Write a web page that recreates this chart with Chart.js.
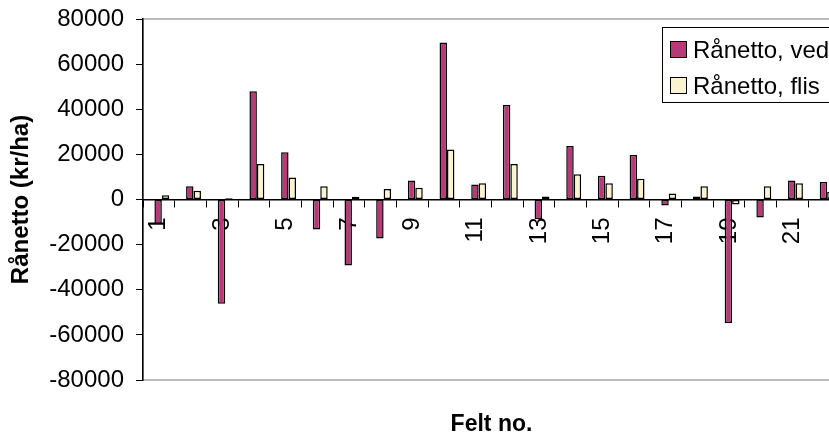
<!DOCTYPE html>
<html>
<head>
<meta charset="utf-8">
<script src="https://cdn.jsdelivr.net/npm/chart.js@4/dist/chart.umd.min.js"></script>
<style>
  html, body { margin: 0; padding: 0; background: #fff; overflow: hidden; }
  #wrap { position: relative; width: 880px; height: 436px; }
</style>
</head>
<body>
<div id="wrap"><canvas id="c"></canvas></div>
<script>
// Field numbers along the x axis
const categories = ['1','2','3','4','5','6','7','8','9','10','11','12','13','14','15','16','17','18','19','20','21','22'];
// Gross net revenue per field (kr/ha)
const vedValues  = [-10700, 5900, -46200, 48000, 20900, -13300, -29200, -17300, 8400, 69600, 6700, 41900, -8600, 23700, 10500, 19700, -2700, 1300, -54700, -8000, 8400, 7800];
const flisValues = [1900, 3850, 600, 15700, 9800, 5900, 1200, 4600, 5200, 22200, 7200, 15700, 1300, 11200, 7200, 9200, 2700, 5900, -2200, 5900, 7200, 3400];
const seriesNames = ['Rånetto, ved', 'Rånetto, flis'];
const yTicks = [-80000, -60000, -40000, -20000, 0, 20000, 40000, 60000, 80000];

const FONT = "'Liberation Sans', Arial, sans-serif";

// Gray frame around the plot area (top and bottom edges visible)
const plotFrame = {
  id: 'plotFrame',
  beforeDraw(chart) {
    const { ctx, chartArea: a } = chart;
    ctx.save();
    ctx.strokeStyle = '#a6a6a6';
    ctx.lineWidth = 1.5;
    ctx.strokeRect(a.left, a.top, a.right - a.left, a.bottom - a.top);
    ctx.restore();
  }
};

// Bar pairs sit slightly right of the category centre
const barNudge = {
  id: 'barNudge',
  beforeDatasetsDraw(chart) { chart.ctx.save(); chart.ctx.translate(3, 0); },
  afterDatasetsDraw(chart) { chart.ctx.restore(); }
};

// Boxed legend drawn inside the plot area, upper right
const boxLegend = {
  id: 'boxLegend',
  afterDraw(chart) {
    const { ctx } = chart;
    const x = 662, y = 27, w = 200, h = 75;
    ctx.save();
    ctx.fillStyle = '#fff';
    ctx.fillRect(x, y, w, h);
    ctx.strokeStyle = '#000';
    ctx.lineWidth = 1;
    ctx.strokeRect(x + 0.5, y + 0.5, w, h);
    ctx.font = '24px ' + FONT;
    ctx.textBaseline = 'middle';
    chart.data.datasets.forEach((ds, i) => {
      const cy = y + 23 + i * 36;
      ctx.fillStyle = ds.backgroundColor;
      ctx.fillRect(x + 8.5, cy - 8.5, 16, 16);
      ctx.strokeStyle = '#000';
      ctx.strokeRect(x + 8.5, cy - 8.5, 16, 16);
      ctx.fillStyle = '#000';
      ctx.fillText(ds.label, x + 31, cy + 1);
    });
    ctx.restore();
  }
};

new Chart(document.getElementById('c'), {
  type: 'bar',
  data: {
    labels: categories,
    datasets: [
      { label: seriesNames[0], data: vedValues, backgroundColor: '#b63a78', borderColor: '#000', borderWidth: 1.5, borderSkipped: false, xAxisID: 'x' },
      { label: seriesNames[1], data: flisValues, backgroundColor: '#fbf3cf', borderColor: '#000', borderWidth: 1.5, borderSkipped: false, xAxisID: 'x' }
    ]
  },
  options: {
    responsive: true,
    maintainAspectRatio: false,
    animation: false,
    devicePixelRatio: 1,
    layout: { padding: { top: 19, right: 40, bottom: 0, left: 0 } },
    datasets: { bar: { categoryPercentage: 0.47, barPercentage: 1.0 } },
    plugins: {
      legend: { display: false },
      tooltip: { enabled: false }
    },
    scales: {
      x: {
        type: 'category',
        position: { y: 0 },
        offset: true,
        grid: { display: true, drawOnChartArea: false, drawTicks: true, tickLength: 7, offset: true, color: '#000', lineWidth: 1 },
        border: { display: true, color: '#000', width: 1.5 },
        ticks: {
          autoSkip: false,
          minRotation: 90,
          maxRotation: 90,
          padding: 11,
          color: '#000',
          font: { family: FONT, size: 24 },
          callback: (v, i) => (i % 2 === 0 ? categories[i] : '')
        },
        afterFit: s => { s.height = 0; }
      },
      xTitle: {
        type: 'category',
        position: 'bottom',
        grid: { display: false },
        border: { display: false },
        ticks: { display: false },
        title: { display: true, text: 'Felt no.', color: '#000', font: { family: FONT, size: 23, weight: 'bold', lineHeight: 1.0 }, padding: { top: 0, bottom: 0 } },
        afterFit: s => { s.height = 56; }
      },
      y: {
        min: yTicks[0],
        max: yTicks[yTicks.length - 1],
        afterBuildTicks: s => { s.ticks = yTicks.map(v => ({ value: v })); },
        grid: { display: true, drawOnChartArea: false, drawTicks: true, tickLength: 7, color: '#000', lineWidth: 1 },
        border: { display: true, color: '#000', width: 1.5 },
        ticks: {
          padding: 12,
          color: '#000',
          font: { family: FONT, size: 24, lineHeight: 0.5 },
          callback: v => String(v)
        },
        title: { display: true, text: 'Rånetto (kr/ha)', color: '#000', font: { family: FONT, size: 24, weight: 'bold' }, padding: { top: 7, bottom: 0 } },
        afterFit: s => { s.width = 143; }
      }
    }
  },
  plugins: [plotFrame, barNudge, boxLegend]
});
</script>
</body>
</html>
